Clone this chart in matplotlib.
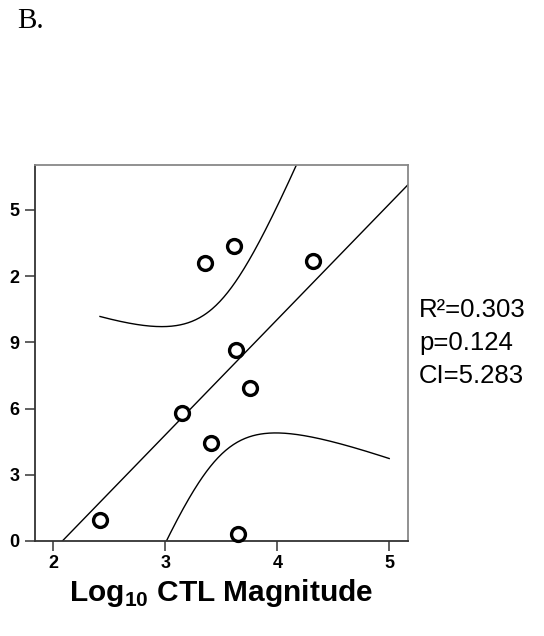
import matplotlib
matplotlib.use("Agg")
import matplotlib.pyplot as plt
import numpy as np

# ---- data ----
LOG_CTL = [2.416, 3.649, 3.148, 3.408, 3.756, 3.631, 3.354, 3.613, 4.319]
RESPONSE = [0.95, 0.32, 5.80, 4.44, 6.93, 8.65, 12.60, 13.37, 12.69]

X_TICKS = [2, 3, 4, 5]
Y_TICKS = [0, 3, 6, 9, 12, 15]
# the leading "1" of 12 and 15 is cut off in the source image
Y_TICK_LABELS = ["0", "3", "6", "9", "2", "5"]
STATS_LINES = ["R\u00b2=0.303", "p=0.124", "CI=5.283"]

T_975_DF7 = 2.364624  # t quantile for the 95% mean confidence band, n=9
BAND_X_MAX = 5.0

plt.rcParams["font.family"] = ["Liberation Sans", "DejaVu Sans"]
plt.rcParams["mathtext.fontset"] = "custom"
plt.rcParams["mathtext.rm"] = "Liberation Sans:bold"
plt.rcParams["mathtext.bf"] = "Liberation Sans:bold"

fig = plt.figure(figsize=(5.44, 6.36), dpi=100)
ax = fig.add_axes([0.0643, 0.1494, 0.6857, 0.5912])

x = np.array(LOG_CTL)
y = np.array(RESPONSE)
n = len(x)

# linear fit + 95% confidence band of the mean
slope, intercept = np.polyfit(x, y, 1)
resid = y - (slope * x + intercept)
s = np.sqrt(np.sum(resid ** 2) / (n - 2))
sxx = np.sum((x - x.mean()) ** 2)

xlim = (1.835, 5.168)
xl = np.linspace(xlim[0], xlim[1], 100)
ax.plot(xl, slope * xl + intercept, color="black", lw=1.0)

xb = np.linspace(x.min(), BAND_X_MAX, 300)
yb = slope * xb + intercept
hw = T_975_DF7 * s * np.sqrt(1.0 / n + (xb - x.mean()) ** 2 / sxx)
ax.plot(xb, yb + hw, color="black", lw=1.0)
ax.plot(xb, yb - hw, color="black", lw=1.0)

ax.plot(x, y, linestyle="none", marker="o", ms=10, mfc="white",
        mec="black", mew=2.4, zorder=5, clip_on=False)

ax.set_xlim(*xlim)
ax.set_ylim(0, 17.04)
ax.set_xticks(X_TICKS)
ax.set_xticklabels([str(t) for t in X_TICKS], fontweight="bold", fontsize=13)
ax.set_yticks(Y_TICKS)
ax.set_yticklabels(Y_TICK_LABELS, fontweight="bold", fontsize=13)
ax.tick_params(axis="x", length=7, width=1.2, pad=3, color="#444")
ax.tick_params(axis="y", length=7.5, width=1.2, pad=3.5, color="#444")

for side in ["left", "bottom"]:
    ax.spines[side].set_color("#333")
    ax.spines[side].set_linewidth(1.3)
for side in ["top", "right"]:
    ax.spines[side].set_color("#888")
    ax.spines[side].set_linewidth(1.3)

fig.text(221 / 544, 1 - 601 / 636, r"Log$_{\mathbf{10}}$ CTL Magnitude",
         ha="center", va="baseline", fontsize=21.5, fontweight="bold")

fig.text(17 / 544, 1 - 28 / 636, "B.", family="Liberation Serif",
         fontsize=21, va="baseline")

for i, line in enumerate(STATS_LINES):
    fig.text(419 / 544, 1 - (317 + 33 * i) / 636, line, fontsize=18.5,
             va="baseline", ha="left")

fig.savefig("out.png", dpi=100)
